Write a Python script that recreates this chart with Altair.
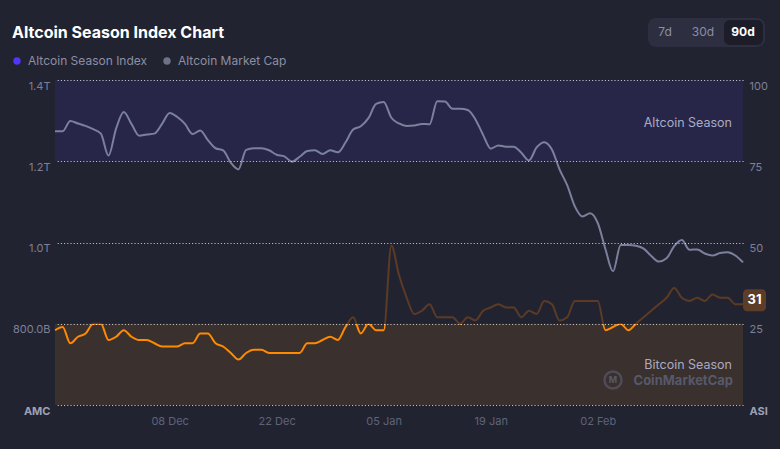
import altair as alt
import pandas as pd

# ---------------- data ----------------
dates = pd.date_range("2024-11-23", periods=91, freq="D").strftime("%Y-%m-%d").tolist()

market_cap_b = [
    1274, 1274, 1299, 1293, 1287, 1279, 1268, 1214, 1281, 1321,
    1292, 1263, 1266, 1268, 1292, 1319, 1309, 1292, 1267, 1276,
    1252, 1232, 1227, 1196, 1180, 1228, 1232, 1232, 1227, 1216,
    1212, 1199, 1211, 1225, 1227, 1218, 1227, 1222, 1246, 1278,
    1286, 1306, 1341, 1346, 1307, 1293, 1287, 1288, 1292, 1291,
    1348, 1347, 1329, 1329, 1326, 1303, 1265, 1231, 1239, 1236,
    1236, 1221, 1202, 1234, 1247, 1229, 1180, 1141, 1089, 1064,
    1072, 1048, 984, 929, 994, 994, 992, 985, 967, 953,
    961, 991, 1006, 982, 983, 973, 968, 974, 976, 968, 951,
]

season_index = [
    23, 24, 19, 21, 22, 25, 25, 20, 21, 23,
    21, 20, 20, 19, 18, 18, 18, 19, 19, 22,
    22, 19, 18, 16, 14, 16, 17, 17, 16, 16,
    16, 16, 16, 19, 19, 20, 21, 20, 24, 27,
    22, 25, 23, 23, 49, 40, 33, 28, 29, 31,
    27, 27, 27, 25, 27, 26, 29, 30, 31, 30,
    30, 27, 29, 28, 32, 31, 26, 27, 32, 32,
    32, 32, 23, 24, 25, 23, 25, 27, 29, 31,
    33, 36, 33, 32, 33, 32, 34, 33, 33, 31, 31,
]

band_names = ["Altcoin Season", "Bitcoin Season"]
band_low = [75, 0]
band_high = [100, 25]
band_colors = ["#272649", "#3a302e"]

left_ticks = [600, 800, 1000, 1200, 1400]
right_ticks = [0, 25, 50, 75, 100]
x_tick_dates = [(2024, 12, 8), (2024, 12, 22), (2025, 1, 5), (2025, 1, 19), (2025, 2, 2)]

legend_names = ["Altcoin Season Index", "Altcoin Market Cap"]
legend_colors = ["#5236f5", "#6e7285"]

# ---------------- styling ----------------
BG = "#222331"
FONT = "Inter"
GRAY_LINE = "#7b809c"
ORANGE = "#ff8a00"
BROWN = "#5b3b24"
LABEL = "#7d8196"

W, H = 688, 325

df = pd.DataFrame({"date": dates, "mcap": market_cap_b, "asi": season_index})
bands = pd.DataFrame({"name": band_names, "lo": band_low, "hi": band_high, "c": band_colors})
last = df.iloc[[-1]]

x_axis = alt.Axis(
    values=[alt.DateTime(year=y, month=m, date=d, utc=True) for (y, m, d) in x_tick_dates],
    format="%d %b", labelColor="#5f6378", labelFont=FONT, labelFontSize=11,
    domain=False, ticks=False, grid=False, labelPadding=10, title=None,
)
x_enc = alt.X("date:T", scale=alt.Scale(type="utc", nice=False, padding=0), axis=x_axis)
idx_scale = alt.Scale(domain=[0, 100], nice=False, zero=False)

# bands
band_layer = alt.Chart(bands).mark_rect().encode(
    y=alt.Y("lo:Q", scale=idx_scale, axis=None),
    y2="hi:Q",
    color=alt.Color("c:N", scale=None, legend=None),
)

# market cap line (left axis)
mcap_layer = alt.Chart(df).mark_line(
    stroke=GRAY_LINE, strokeWidth=2, interpolate="monotone"
).encode(
    x=x_enc,
    y=alt.Y(
        "mcap:Q",
        scale=alt.Scale(domain=[600, 1400], nice=False, zero=False),
        axis=alt.Axis(
            orient="left", values=left_ticks, grid=False, domain=False, ticks=False,
            labelPadding=5, labelOffset=6, labelFont=FONT, labelFontSize=11,
            labelColor={"condition": {"test": "datum.value == 600", "value": "#9ea1b5"}, "value": LABEL},
            labelFontWeight={"condition": {"test": "datum.value == 600", "value": "bold"}, "value": "normal"},
            labelExpr="datum.value == 600 ? 'AMC' : (datum.value >= 1000 ? format(datum.value / 1000, '.1f') + 'T' : format(datum.value, '.1f') + 'B')",
            title=None,
        ),
    ),
)

# index line, coloured orange below 25 and brown above
vmax, vmin = max(season_index), min(season_index)
off = (vmax - 25) / (vmax - vmin)
grad = alt.LinearGradient(
    gradient="linear", x1=0, y1=0, x2=0, y2=1,
    stops=[
        alt.GradientStop(color=BROWN, offset=0),
        alt.GradientStop(color=BROWN, offset=off),
        alt.GradientStop(color=ORANGE, offset=off),
        alt.GradientStop(color=ORANGE, offset=1),
    ],
)
idx_line = alt.Chart(df).mark_line(stroke=grad, strokeWidth=2, interpolate="monotone").encode(
    x=x_enc,
    y=alt.Y(
        "asi:Q", scale=idx_scale,
        axis=alt.Axis(
            orient="right", values=right_ticks, grid=True, gridDash=[1, 2.2],
            gridColor="#ffffff", gridOpacity=0.8, gridWidth=1,
            domain=False, ticks=False, labelPadding=6, labelOffset=6,
            labelFont=FONT, labelFontSize=11,
            labelColor={"condition": {"test": "datum.value == 0", "value": "#9ea1b5"}, "value": LABEL},
            labelFontWeight={"condition": {"test": "datum.value == 0", "value": "bold"}, "value": "normal"},
            labelExpr="datum.value == 0 ? 'ASI' : datum.label",
            zindex=1, title=None,
        ),
    ),
)
badge = alt.Chart(last).mark_rect(
    width=23, height=22, cornerRadius=4, color="#5d3d28", xOffset=11.5, yOffset=-4
).encode(x=x_enc, y=alt.Y("asi:Q", scale=idx_scale))
badge_txt = alt.Chart(last).mark_text(
    font=FONT, fontSize=13, fontWeight="bold", color="#ffffff", dx=11.5, dy=-4
).encode(x=x_enc, y=alt.Y("asi:Q", scale=idx_scale), text="asi:Q")

idx_layer = alt.layer(idx_line, badge, badge_txt)

# band captions and watermark
dec = pd.DataFrame({"k": [0]})
def txt(s, x, y, size=12, color="#a9abc3", weight="normal", align="left"):
    return alt.Chart(dec).mark_text(
        text=s, font=FONT, fontSize=size, color=color, fontWeight=weight,
        align=align, baseline="middle"
    ).encode(x=alt.value(x), y=alt.value(y))

alt_cap = txt(band_names[0], 677, 43, size=12.5, align="right")
btc_cap = txt(band_names[1], 677, 285, size=12.5, align="right")
wm_text = txt("CoinMarketCap", 678, 301, size=13, color="#56596b", weight="bold", align="right")
wm_circle = alt.Chart(dec).mark_point(
    shape="circle", size=290, stroke="#56596b", strokeWidth=2.5, filled=False
).encode(x=alt.value(558), y=alt.value(300))
wm_m = txt("M", 558, 300, size=9, color="#56596b", weight="bold", align="center")

# title, legend, range buttons
title = txt("Altcoin Season Index Chart", -43, -47, size=16, color="#ffffff", weight="bold")
leg_dots = alt.Chart(pd.DataFrame({"n": legend_names, "c": legend_colors, "px": [-38, 112]})).mark_point(
    shape="circle", filled=True, size=55, opacity=1
).encode(x=alt.X("px:Q", scale=None), y=alt.value(-19), color=alt.Color("c:N", scale=None, legend=None))
leg_txt = alt.Chart(pd.DataFrame({"n": legend_names, "px": [-27, 123]})).mark_text(
    font=FONT, fontSize=12, color="#8b8fa5", align="left", baseline="middle"
).encode(x=alt.X("px:Q", scale=None), y=alt.value(-19), text="n:N")

btn_box = alt.Chart(dec).mark_rect(color="#2d2e40", cornerRadius=8).encode(
    x=alt.value(593), x2=alt.value(710), y=alt.value(-62), y2=alt.value(-33))
btn_act = alt.Chart(dec).mark_rect(color="#1c1d28", cornerRadius=6).encode(
    x=alt.value(669), x2=alt.value(708), y=alt.value(-60), y2=alt.value(-35))
b1 = txt("7d", 610, -48, size=12, color="#8b8fa5", align="center")
b2 = txt("30d", 648, -48, size=12, color="#8b8fa5", align="center")
b3 = txt("90d", 688, -48, size=12, color="#ffffff", weight="bold", align="center")

chart = alt.layer(
    band_layer, mcap_layer, idx_layer,
    alt_cap, btc_cap, wm_circle, wm_m, wm_text,
    title, leg_dots, leg_txt, btn_box, btn_act, b1, b2, b3,
).resolve_scale(y="independent", x="shared").properties(
    width=W, height=H,
    background=BG,
    padding={"left": 55, "top": 80, "right": 37, "bottom": 44},
    autosize=alt.AutoSizeParams(type="none"),
).configure_view(stroke=None)

chart.save("out.html", embed_options={"renderer": "svg", "actions": False})
